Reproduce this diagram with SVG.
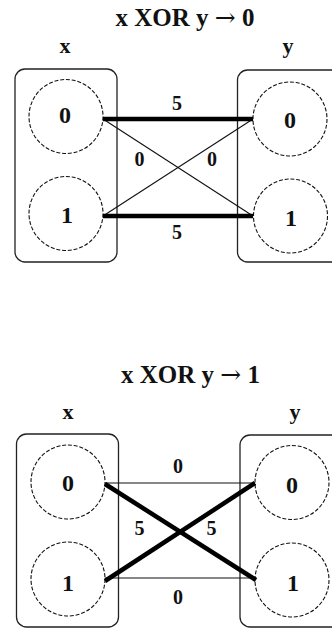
<svg xmlns="http://www.w3.org/2000/svg" width="332" height="628" viewBox="0 0 332 628">
<defs>
<style>
text{font-family:"Liberation Serif","Times New Roman",serif;font-weight:bold;fill:#111;text-anchor:middle}
.title{font-size:25px}
.arr{font-family:"DejaVu Serif",serif;font-weight:normal}
.var{font-size:22px}
.node{font-size:24px}
.edge{font-size:20px}
.box{fill:none;stroke:#222;stroke-width:1.3}
.circ{fill:none;stroke:#111;stroke-width:1.1;stroke-dasharray:4,1.8}
.thin{stroke:#111;stroke-width:1.1}
.thick{stroke:#000;stroke-width:4.5}
</style>
</defs>
<rect width="332" height="628" fill="#fff"/>

<text class="title" x="185" y="26">x XOR y <tspan class="arr">→</tspan> 0</text>
<text class="var" x="65" y="53">x</text>
<text class="var" x="288" y="53">y</text>
<g id="top-x">
<rect class="box" x="15" y="69" width="102" height="193" rx="10"/>
</g>
<g id="top-y">
<rect class="box" x="237.5" y="70" width="120" height="192" rx="10"/>
</g>
<g id="top-x0"><circle class="circ" cx="66" cy="116.5" r="37"/><text class="node" x="65" y="123">0</text></g>
<g id="top-x1"><circle class="circ" cx="66" cy="213.5" r="37"/><text class="node" x="67" y="223">1</text></g>
<g id="top-y0"><circle class="circ" cx="290" cy="119" r="37"/><text class="node" x="290" y="128">0</text></g>
<g id="top-y1"><circle class="circ" cx="290.5" cy="216" r="37"/><text class="node" x="291" y="226">1</text></g>
<g id="top-edges">
<line class="thin" x1="103" y1="119" x2="253" y2="216"/>
<line class="thin" x1="103" y1="216" x2="253" y2="119"/>
<line class="thick" x1="103" y1="119" x2="253" y2="119"/>
<line class="thick" x1="103" y1="216" x2="253" y2="216"/>
<text class="edge" x="177" y="110">5</text>
<text class="edge" x="139.5" y="166">0</text>
<text class="edge" x="212" y="166">0</text>
<text class="edge" x="177" y="239">5</text>
</g>

<text class="title" x="190.5" y="383">x XOR y <tspan class="arr">→</tspan> 1</text>
<text class="var" x="68" y="419">x</text>
<text class="var" x="295" y="419">y</text>
<g id="bot-x">
<rect class="box" x="16.5" y="434" width="102" height="193" rx="10"/>
</g>
<g id="bot-y">
<rect class="box" x="240" y="435" width="120" height="192" rx="10"/>
</g>
<g id="bot-x0"><circle class="circ" cx="68" cy="482" r="37"/><text class="node" x="68" y="491">0</text></g>
<g id="bot-x1"><circle class="circ" cx="68" cy="579" r="37"/><text class="node" x="68" y="591">1</text></g>
<g id="bot-y0"><circle class="circ" cx="292" cy="482.5" r="37"/><text class="node" x="292" y="493">0</text></g>
<g id="bot-y1"><circle class="circ" cx="292" cy="580" r="37"/><text class="node" x="293" y="591">1</text></g>
<g id="bot-edges">
<line class="thin" x1="105" y1="483" x2="255" y2="483"/>
<line class="thin" x1="105" y1="578" x2="255" y2="578"/>
<line class="thick" x1="105" y1="484" x2="256" y2="580"/>
<line class="thick" x1="105" y1="581" x2="255" y2="483"/>
<text class="edge" x="178" y="473">0</text>
<text class="edge" x="139.5" y="535">5</text>
<text class="edge" x="211.5" y="535">5</text>
<text class="edge" x="178" y="604">0</text>
</g>
</svg>
